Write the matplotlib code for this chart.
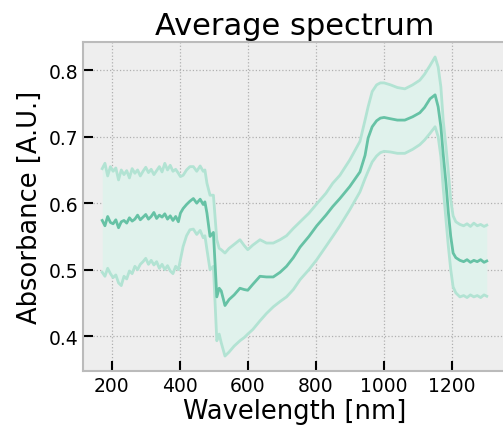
import numpy as np
import matplotlib
matplotlib.use("Agg")
import matplotlib.pyplot as plt

# wavelength grid [nm]
wavelength = [172, 180, 188, 196, 204, 212, 220, 228, 236, 244, 252, 260, 268, 276, 284,
              292, 300, 308, 316, 324, 332, 340, 348, 356, 364, 372, 380, 388, 396,
              402, 410, 420, 430, 440, 450, 460, 469, 474, 480, 489, 499, 509, 516, 522,
              533, 545, 560, 577, 590, 600, 615, 636, 655, 675, 695, 714, 734, 754, 780,
              803, 830, 850, 871, 900, 930, 945, 954, 966, 979, 990, 1001, 1020, 1040,
              1062, 1085, 1106, 1120, 1136, 1151, 1160, 1168, 1175, 1183, 1190, 1197,
              1204, 1212, 1224, 1235, 1245, 1255, 1265, 1275, 1285, 1295, 1303]

mean_abs = [0.574, 0.566, 0.580, 0.571, 0.569, 0.575, 0.563, 0.572, 0.574, 0.570, 0.578,
            0.573, 0.576, 0.582, 0.575, 0.579, 0.583, 0.576, 0.580, 0.586, 0.577, 0.582,
            0.579, 0.584, 0.576, 0.581, 0.574, 0.580, 0.572,
            0.585, 0.592, 0.598, 0.603, 0.607, 0.600, 0.606, 0.598, 0.602, 0.585, 0.550,
            0.556, 0.459, 0.472, 0.468, 0.446, 0.455, 0.462, 0.472, 0.470, 0.469, 0.478,
            0.490, 0.489, 0.489, 0.496, 0.505, 0.518, 0.534, 0.550, 0.566, 0.582, 0.595,
            0.607, 0.625, 0.647, 0.672, 0.698, 0.715, 0.724, 0.728, 0.729, 0.727, 0.725,
            0.725, 0.730, 0.736, 0.744, 0.757, 0.763, 0.745, 0.715, 0.673, 0.630, 0.586,
            0.550, 0.525, 0.518, 0.514, 0.512, 0.515, 0.511, 0.514, 0.512, 0.515, 0.511,
            0.513]

upper_abs = [0.652, 0.660, 0.641, 0.655, 0.648, 0.653, 0.635, 0.650, 0.643, 0.649, 0.638,
             0.652, 0.645, 0.650, 0.641, 0.648, 0.654, 0.646, 0.651, 0.643, 0.649, 0.655,
             0.647, 0.660, 0.650, 0.657, 0.648, 0.651, 0.645,
             0.640, 0.642, 0.650, 0.655, 0.655, 0.648, 0.656, 0.648, 0.650, 0.630, 0.612,
             0.612, 0.545, 0.532, 0.530, 0.525, 0.532, 0.538, 0.545, 0.536, 0.530, 0.537,
             0.545, 0.540, 0.540, 0.545, 0.551, 0.562, 0.572, 0.585, 0.599, 0.615, 0.630,
             0.642, 0.665, 0.693, 0.725, 0.745, 0.768, 0.778, 0.781, 0.781, 0.778, 0.774,
             0.772, 0.778, 0.785, 0.794, 0.807, 0.820, 0.805, 0.775, 0.724, 0.685, 0.647,
             0.605, 0.581, 0.572, 0.568, 0.566, 0.569, 0.565, 0.570, 0.566, 0.568, 0.565,
             0.567]

lower_abs = [0.496, 0.490, 0.502, 0.494, 0.488, 0.492, 0.480, 0.476, 0.490, 0.486, 0.498,
             0.494, 0.505, 0.500, 0.508, 0.512, 0.517, 0.508, 0.514, 0.507, 0.512, 0.502,
             0.508, 0.500, 0.506, 0.498, 0.494, 0.505, 0.500,
             0.515, 0.535, 0.551, 0.560, 0.561, 0.553, 0.559, 0.548, 0.551, 0.530, 0.500,
             0.505, 0.393, 0.403, 0.390, 0.370, 0.376, 0.385, 0.393, 0.398, 0.403, 0.410,
             0.423, 0.434, 0.444, 0.452, 0.459, 0.470, 0.485, 0.500, 0.515, 0.535, 0.550,
             0.566, 0.590, 0.617, 0.637, 0.648, 0.662, 0.671, 0.676, 0.678, 0.677, 0.675,
             0.675, 0.681, 0.688, 0.695, 0.705, 0.715, 0.700, 0.670, 0.622, 0.575, 0.535,
             0.500, 0.474, 0.465, 0.459, 0.461, 0.458, 0.462, 0.459, 0.461, 0.458, 0.462,
             0.460]

color = '#66c2a5'

fig = plt.figure(figsize=(5.03, 4.31), dpi=100)
ax = fig.add_axes([83/503, 59/431, 423/503, 329/431])
ax.set_facecolor('#eeeeee')

ax.fill_between(wavelength, lower_abs, upper_abs, color='#e0f2ec', lw=0)
ax.plot(wavelength, upper_abs, color='#b2e3d3', lw=2)
ax.plot(wavelength, lower_abs, color='#b2e3d3', lw=2)
ax.plot(wavelength, mean_abs, color=color, lw=2)

ax.set_xticks([200, 400, 600, 800, 1000, 1200])
ax.set_yticks([0.4, 0.5, 0.6, 0.7, 0.8])
ax.grid(True, color='#b0b0b0', ls=':', lw=0.9)
ax.set_axisbelow(True)
for s in ax.spines.values():
    s.set_color('#bbbbbb')
    s.set_linewidth(1.5)
ax.tick_params(direction='in', length=7.5, width=1.5, color='black', labelsize=13.5)

ax.set_title('Average spectrum', fontsize=22, pad=6)
ax.set_xlabel('Wavelength [nm]', fontsize=18.5, labelpad=2)
ax.set_ylabel('Absorbance [A.U.]', fontsize=18.5)

fig.savefig('out.png', dpi=100)
